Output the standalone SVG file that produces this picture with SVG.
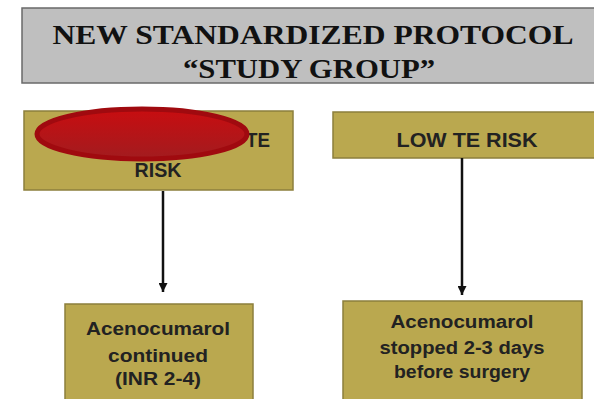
<svg xmlns="http://www.w3.org/2000/svg" width="594" height="399" viewBox="0 0 594 399">
<defs>
<linearGradient id="red" x1="0" y1="0" x2="0" y2="1">
<stop offset="0" stop-color="#c80d10"/>
<stop offset="1" stop-color="#a21c1f"/>
</linearGradient>
<marker id="ah" markerWidth="9" markerHeight="9" refX="9" refY="4.5" orient="auto" markerUnits="userSpaceOnUse" viewBox="0 0 9 9">
<path d="M0,0 L9,4.5 L0,9 Z" fill="#111"/>
</marker>
</defs>
<style>
.box{fill:#baa84f;stroke:#8c7f3c;stroke-width:1.5}
.title{fill:#bfbfbf;stroke:#6a6a6a;stroke-width:1.5}
.t{font-family:"Liberation Serif","Times New Roman",serif;font-weight:bold;font-size:27px;fill:#111;text-anchor:middle}
.s{font-family:"Liberation Sans",Arial,sans-serif;font-weight:bold;fill:#222;text-anchor:middle}
.c{stroke:#111;stroke-width:2.5;fill:none}
</style>
<rect width="594" height="399" fill="#fff"/>
<g id="title">
<rect class="title" x="22" y="8" width="580" height="75"/>
<text class="t" x="313" y="44" textLength="521" lengthAdjust="spacingAndGlyphs">NEW STANDARDIZED PROTOCOL</text>
<text class="t" x="309" y="78" textLength="252" lengthAdjust="spacingAndGlyphs">“STUDY GROUP”</text>
</g>
<g id="high-risk">
<rect class="box" x="24" y="111" width="269" height="79"/>
<text class="s" x="258" y="147" font-size="20" textLength="24" lengthAdjust="spacingAndGlyphs">TE</text>
<text class="s" x="158" y="177" font-size="20" textLength="47" lengthAdjust="spacingAndGlyphs">RISK</text>
<ellipse cx="142" cy="134" rx="105" ry="25" fill="url(#red)" stroke="#a00a0f" stroke-width="5"/>
</g>
<g id="low-risk">
<rect class="box" x="333" y="112" width="270" height="46"/>
<text class="s" x="467" y="147" font-size="20" textLength="141" lengthAdjust="spacingAndGlyphs">LOW TE RISK</text>
</g>
<g id="continued">
<rect class="box" x="65" y="304" width="188" height="100"/>
<text class="s" x="158" y="335" font-size="18" textLength="144" lengthAdjust="spacingAndGlyphs">Acenocumarol</text>
<text class="s" x="158" y="362" font-size="18" textLength="100" lengthAdjust="spacingAndGlyphs">continued</text>
<text class="s" x="158" y="385" font-size="18" textLength="86" lengthAdjust="spacingAndGlyphs">(INR 2-4)</text>
</g>
<g id="stopped">
<rect class="box" x="343" y="301" width="239" height="103"/>
<text class="s" x="462" y="328" font-size="18" textLength="143" lengthAdjust="spacingAndGlyphs">Acenocumarol</text>
<text class="s" x="462" y="354" font-size="18" textLength="165" lengthAdjust="spacingAndGlyphs">stopped 2-3 days</text>
<text class="s" x="462" y="378" font-size="18" textLength="136" lengthAdjust="spacingAndGlyphs">before surgery</text>
</g>
<g id="connectors">
<line class="c" x1="163" y1="191" x2="163" y2="292" marker-end="url(#ah)"/>
<line class="c" x1="462" y1="158" x2="462" y2="295" marker-end="url(#ah)"/>
</g>
</svg>
